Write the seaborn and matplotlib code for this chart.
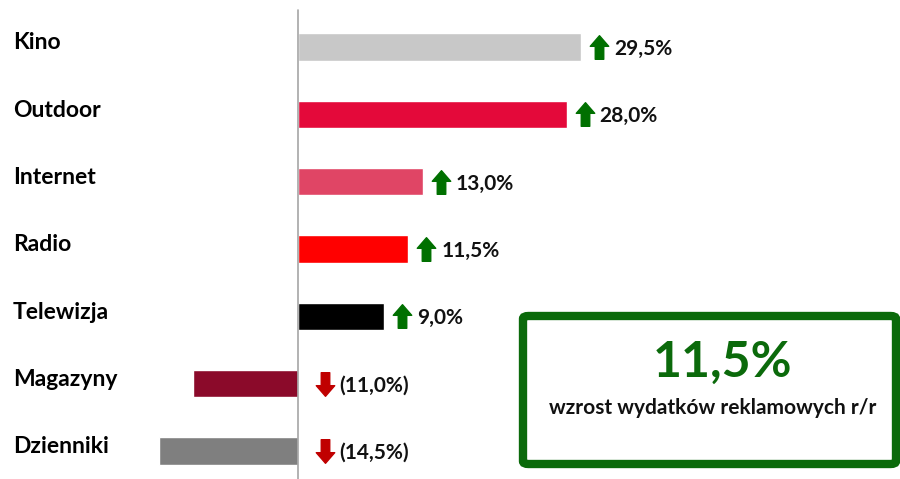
import numpy as np
import pandas as pd
import matplotlib
matplotlib.use("Agg")
import matplotlib.pyplot as plt
import seaborn as sns
from matplotlib.path import Path
from matplotlib.patches import FancyBboxPatch

# media categories and y/y change of ad spend (%)
categories = ["Kino", "Outdoor", "Internet", "Radio", "Telewizja", "Magazyny", "Dzienniki"]
values = [29.5, 28.0, 13.0, 11.5, 9.0, -11.0, -14.5]
labels = ["29,5%", "28,0%", "13,0%", "11,5%", "9,0%", "(11,0%)", "(14,5%)"]
colors = ["#C8C8C8", "#E4093A", "#E04565", "#FF0000", "#000000", "#8B0A2A", "#7F7F7F"]
total_label = "11,5%"
total_text = "wzrost wydatków reklamowych r/r"

sns.set_theme(style="white")
plt.rcParams["font.family"] = ["Lato", "DejaVu Sans"]

df = pd.DataFrame({"medium": categories, "change": values})

fig = plt.figure(figsize=(9, 4.79), dpi=100)
ax = fig.add_axes([0, 0, 1, 1])
sns.barplot(data=df, x="change", y="medium", hue="medium", palette=colors,
            saturation=1, width=0.41, legend=False, ax=ax)

px = 9.59  # pixels per percent point
ax.set_xlim(-298 / px, 602 / px)
ax.set_ylim(6.416, -0.698)
ax.axis("off")
ax.axvline(0, ymin=0, ymax=0.979, color="#A6A6A6", lw=1.2)

# arrow marker shapes
up = Path([(-0.18, -0.5), (0.18, -0.5), (0.18, 0.05), (0.39, 0.05), (0, 0.5),
           (-0.39, 0.05), (-0.18, 0.05), (-0.18, -0.5)], closed=True)
down = Path([(x, -y) for x, y in up.vertices], closed=True)

for i, (v, lab) in enumerate(zip(values, labels)):
    ax.text(13 / 900, i - 0.06, categories[i], transform=ax.get_yaxis_transform(),
            ha="left", va="center", fontsize=16.5, fontweight="bold", color="black")
    if v > 0:
        ax.plot(v + 18 / px, i, marker=up, markersize=17, color="#007000", mec="#007000")
        tx = v + 33 / px
    else:
        ax.plot(27 / px, i, marker=down, markersize=17, color="#C00000", mec="#C00000")
        tx = 41 / px
    ax.text(tx, i + 0.03, lab, ha="left", va="center", fontsize=15,
            fontweight="bold", color="#111111")

# summary box
box = FancyBboxPatch((523 / 900, 15 / 479), 373 / 900, 148 / 479,
                     boxstyle="round,pad=0,rounding_size=0.006",
                     transform=fig.transFigure, fc="white", ec="#0B6A0B", lw=6)
fig.patches.append(box)
fig.text(722 / 900, 1 - 362 / 479, total_label, ha="center", va="center",
         fontsize=36, color="#0B6A0B", fontweight="bold")
fig.text(713 / 900, 1 - 408 / 479, total_text, ha="center", va="center",
         fontsize=15, fontweight="bold", color="#111111")

fig.savefig("out.png", dpi=100)
